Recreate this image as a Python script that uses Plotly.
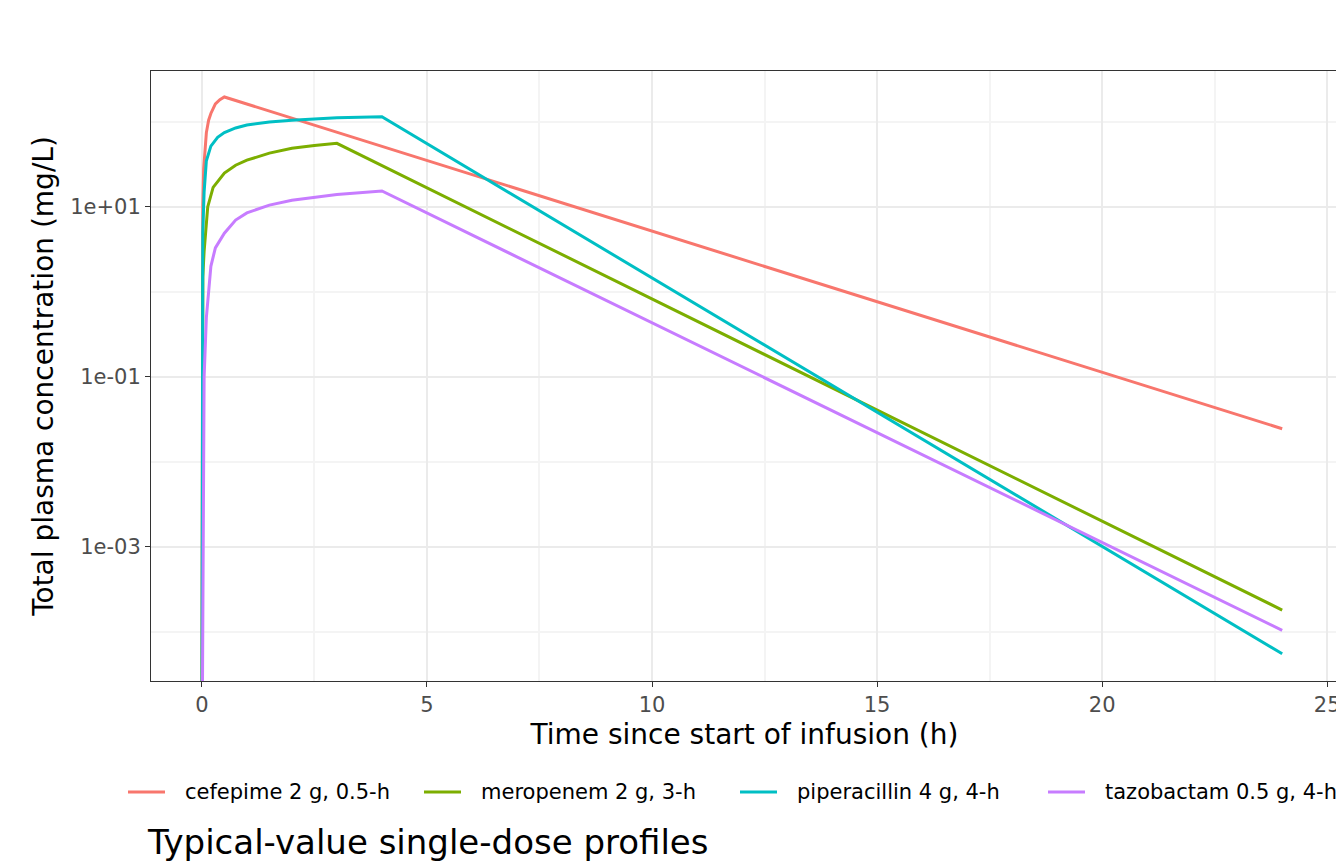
import plotly.graph_objects as go

# Values (time in h, concentration in mg/L)
cef_t = [0, 0.01, 0.02, 0.04, 0.07, 0.1, 0.15, 0.2, 0.3, 0.4, 0.5, 24]
cef_c = [1e-6, 5, 10, 28, 55, 75, 105, 126, 163, 183, 197, 0.0245]

mer_t = [0, 0.02, 0.05, 0.13, 0.25, 0.5, 0.75, 1, 1.5, 2, 2.5, 3, 24]
mer_c = [1e-6, 1.5, 3, 10, 17, 25, 31, 35.5, 43, 49, 53, 56, 1.8e-4]

pip_t = [0, 0.02, 0.05, 0.1, 0.2, 0.35, 0.5, 0.75, 1, 1.5, 2, 3, 4, 24]
pip_c = [1e-6, 5, 15, 35, 52, 66, 75, 85, 92, 100, 105, 112, 115, 5.5e-5]

taz_t = [0, 0.05, 0.1, 0.2, 0.3, 0.5, 0.75, 1, 1.5, 2, 3, 4, 24]
taz_c = [1e-6, 0.1, 0.5, 2.0, 3.3, 4.9, 7.0, 8.5, 10.5, 12, 14, 15.4, 1.04e-4]

series = [
    ("cefepime 2 g, 0.5-h", cef_t, cef_c, "#F8766D"),
    ("meropenem 2 g, 3-h", mer_t, mer_c, "#7CAE00"),
    ("piperacillin 4 g, 4-h", pip_t, pip_c, "#00BFC4"),
    ("tazobactam 0.5 g, 4-h", taz_t, taz_c, "#C77CFF"),
]
legend_px = [120, 416, 732, 1040]  # left edge of each legend key (px)

L, R, T, B = 143, 1330, 63, 673
fig = go.Figure()
for (name, t, c, col), px in zip(series, legend_px):
    fig.add_trace(go.Scatter(x=t, y=c, mode="lines", name=name,
                             line=dict(color=col, width=3), showlegend=False))
    # manual bottom legend (ggplot-style, runs off the right edge)
    x0 = (px - L) / (R - L)
    x1 = (px + 37 - L) / (R - L)
    xt = (px + 55 - L) / (R - L)
    yl = (B - 784) / (B - T)
    fig.add_shape(type="line", xref="paper", yref="paper", x0=x0, x1=x1,
                  y0=yl, y1=yl, line=dict(color=col, width=3))
    fig.add_annotation(text=name, xref="paper", yref="paper", x=xt, y=yl,
                       xanchor="left", yanchor="middle", showarrow=False,
                       font=dict(size=21, color="black"))

axis_common = dict(showline=True, linecolor="#333333", mirror=True,
                   gridcolor="#EBEBEB", gridwidth=1.5, zeroline=False,
                   ticks="outside", ticklen=5, tickcolor="#333333",
                   automargin=False,
                   tickfont=dict(size=21, color="#4D4D4D"))

fig.update_layout(
    width=1344, height=864,
    font=dict(family="DejaVu Sans", color="black"),
    paper_bgcolor="white", plot_bgcolor="white",
    margin=dict(l=L, r=1344 - R, t=T, b=864 - B, autoexpand=False),
    title=dict(text="Typical-value single-dose profiles", x=140 / 1344, xanchor="left",
               y=30 / 864, yref="container", yanchor="middle", font=dict(size=34)),
    xaxis=dict(range=[-1.13, 25.24], tickvals=[0, 5, 10, 15, 20, 25],
               minor=dict(tickvals=[2.5, 7.5, 12.5, 17.5, 22.5],
                          gridcolor="#F4F4F4", ticks=""),
               title=dict(text="Time since start of infusion (h)", font=dict(size=28),
                          standoff=8),
               **axis_common),
    yaxis=dict(type="log", range=[-4.58, 2.6], tickvals=[1e1, 1e-1, 1e-3],
               ticktext=["1e+01", "1e-01", "1e-03"],
               minor=dict(tickvals=[1e2, 1, 1e-2, 1e-4],
                          gridcolor="#F4F4F4", ticks=""),
               title=dict(text="Total plasma concentration (mg/L)", font=dict(size=28),
                          standoff=8),
               **axis_common),
)

fig.write_html("out.html")
